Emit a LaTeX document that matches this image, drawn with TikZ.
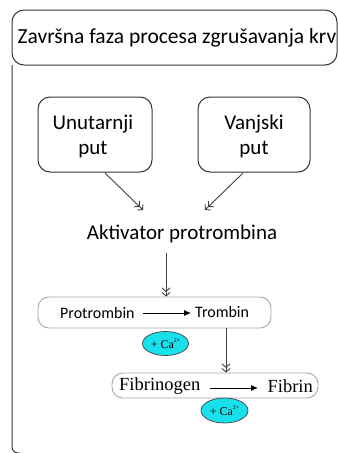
\documentclass[tikz,border=0pt]{standalone}
\usepackage{fontspec}
\setmainfont{Liberation Serif}
\newfontfamily\carl{Carlito}
\usetikzlibrary{arrows.meta,shapes.geometric}
\definecolor{caCyan}{RGB}{25,225,235}
\begin{document}
\begin{tikzpicture}[x=1pt,y=-1pt,
  frame/.style={draw=black!80,line width=1pt},
  pathbox/.style={draw=black!80,line width=1pt,rounded corners=12pt},
  stagebox/.style={draw=black!35,line width=0.9pt,rounded corners=11pt},
  caell/.style={ellipse,draw=black!75,fill=caCyan,line width=0.7pt,inner sep=0pt,font=\fontsize{12}{12}\selectfont},
  dbl/.style={draw=black!75,line width=0.9pt,-{Straight Barb[length=3.5pt,width=8pt]Straight Barb[length=3.5pt,width=8pt]}},
  rx/.style={draw=black,line width=0.9pt,-{Latex[length=7pt,width=6pt]}},
  txt/.style={inner sep=0pt,font=\carl\fontsize{21}{25}\selectfont}]
\useasboundingbox (0,0) rectangle (338,453);
% frame
\draw[frame,rounded corners=12pt] (12,65) rectangle (337,10);
\draw[frame,rounded corners=6pt] (12,65) -- (12,453) -- (20,453);
\node[txt,font=\carl\fontsize{21.5}{24}\selectfont] (title) at (177,38) {Završna faza procesa zgrušavanja krv};
% pathways
\draw[pathbox] (38,97) rectangle (152,172);
\draw[pathbox] (198,97) rectangle (310,172);
\node[txt,align=center] (un) at (93,136) {Unutarnji\\put};
\node[txt,align=center] (va) at (254,136) {Vanjski\\put};
\coordinate (u0) at (105,173);
\coordinate (v0) at (243,173);
\node[txt] (akt) at (182,234) {Aktivator protrombina};
\coordinate (a1) at (143,210);
\coordinate (a2) at (205,210);
\draw[dbl] (u0) -- (a1);
\draw[dbl] (v0) -- (a2);
% protrombin stage
\node[stagebox,minimum width=233pt,minimum height=31pt] (s1) at (154.5,312.5) {};
\coordinate (akb) at (166,253);
\draw[dbl] (akb) -- (s1.north -| akb);
\node[inner sep=0pt,font=\carl\fontsize{16}{18}\selectfont,anchor=west] (pro) at (60,313) {Protrombin};
\node[inner sep=0pt,font=\carl\fontsize{16}{18}\selectfont,anchor=west] (tro) at (195,312) {Trombin};
\coordinate (p1) at (143,313);
\coordinate (p2) at (191,313);
\draw[rx] (p1) -- (p2);
\node[caell,minimum width=46pt,minimum height=24pt] (ca1) at (165.5,343.5) {+ Ca\raisebox{6pt}{\fontsize{6}{6}\selectfont 2+}};
% fibrinogen stage
\node[stagebox,minimum width=206pt,minimum height=25pt] (s2) at (215,385.5) {};
\coordinate (tb) at (226,328);
\draw[dbl] (tb) -- (s2.north -| tb);
\node[inner sep=0pt,font=\fontsize{18.5}{20}\selectfont,anchor=west] (fg) at (119,386) {Fibrinogen};
\node[inner sep=0pt,font=\fontsize{18.5}{20}\selectfont,anchor=east] (fb) at (313,386) {Fibrin};
\coordinate (f1) at (210,388);
\coordinate (f2) at (258,388);
\draw[rx] (f1) -- (f2);
\node[caell,minimum width=47pt,minimum height=25pt] (ca2) at (224.5,410.5) {+ Ca\raisebox{6pt}{\fontsize{6}{6}\selectfont 2+}};
\end{tikzpicture}
\end{document}
